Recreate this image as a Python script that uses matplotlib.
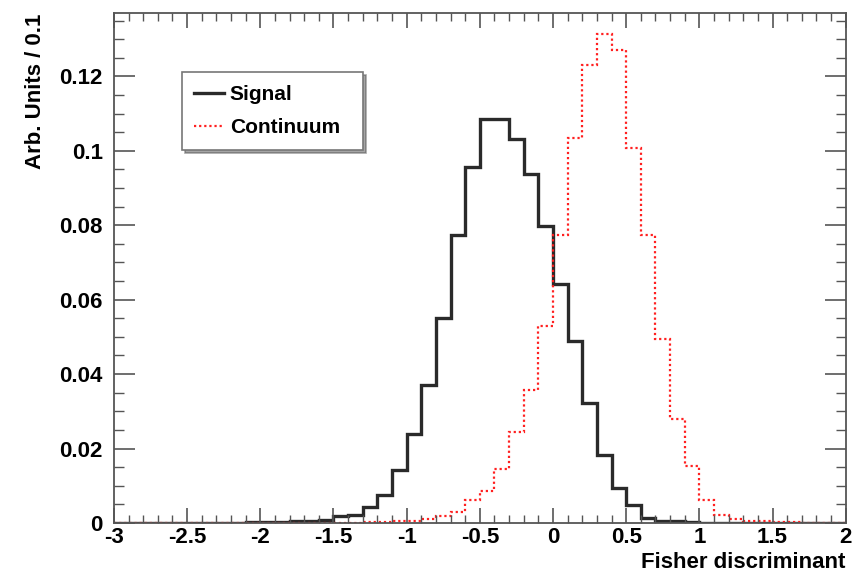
import numpy as np
import matplotlib
matplotlib.use("Agg")
import matplotlib.pyplot as plt
from matplotlib.ticker import MultipleLocator, FormatStrFormatter

plt.rcParams['font.family'] = ['Liberation Sans', 'DejaVu Sans']
plt.rcParams['font.weight'] = 'bold'
plt.rcParams['axes.unicode_minus'] = False

# histogram binning: 50 bins of 0.1 from -3 to 2
x_lo = -3.0
x_hi = 2.0

# bin contents (left edge -3.0 ... 1.9)
signal = [
    0, 0, 0, 0, 0, 0, 0,
    0.0001, 0.0001, 0.0002, 0.0003, 0.0003, 0.0004, 0.0005, 0.0008,
    0.0018, 0.0020, 0.0044, 0.0075, 0.0142, 0.0240, 0.0370, 0.0550,
    0.0773, 0.0957, 0.1086, 0.1086, 0.1033, 0.0938, 0.0797,
    0.0641, 0.0488, 0.0322, 0.0182, 0.0093, 0.0047, 0.0014, 0.0006,
    0.0005, 0.0003, 0.0001,
    0, 0, 0, 0, 0, 0, 0, 0, 0,
]
continuum = [
    0, 0, 0, 0, 0, 0, 0, 0, 0, 0, 0, 0, 0, 0, 0,
    0.0001, 0.0001, 0.0002, 0.0003, 0.0004, 0.0006, 0.0010, 0.0018,
    0.0030, 0.0062, 0.0087, 0.0146, 0.0244, 0.0356, 0.0529,
    0.0775, 0.1035, 0.1230, 0.1314, 0.1272, 0.1007, 0.0774, 0.0494,
    0.0280, 0.0154, 0.0061, 0.0020, 0.0010, 0.0006, 0.0004, 0.0003,
    0.0002, 0.0001, 0.0001, 0.0001,
]
labels = ["Signal", "Continuum"]

edges = np.linspace(x_lo, x_hi, len(signal) + 1)

fig = plt.figure(figsize=(8.63, 5.74), dpi=100)
ax = fig.add_axes([0.132, 0.089, 0.848, 0.888])

ax.stairs(signal, edges, color='#2a2a2a', linewidth=2.4, label=labels[0])
ax.stairs(continuum, edges, color='#ff2020', linewidth=1.6,
          linestyle=(0, (1, 1.3)), label=labels[1])

ax.set_xlim(x_lo, x_hi)
ax.set_ylim(0, 0.137)

ax.xaxis.set_major_locator(MultipleLocator(0.5))
ax.xaxis.set_minor_locator(MultipleLocator(0.1))
ax.yaxis.set_major_locator(MultipleLocator(0.02))
ax.yaxis.set_minor_locator(MultipleLocator(0.005))
ax.xaxis.set_major_formatter(FormatStrFormatter('%g'))
ax.yaxis.set_major_formatter(FormatStrFormatter('%g'))

ax.tick_params(which='both', direction='in', top=True, right=True,
               color='#555555', labelsize=16)
ax.tick_params(axis='x', which='major', length=11, width=1.2, pad=3)
ax.tick_params(axis='x', which='minor', length=5.5, width=1.0)
ax.tick_params(axis='y', which='major', length=15, width=1.2, pad=8)
ax.tick_params(axis='y', which='minor', length=7.5, width=1.0)
for sp in ax.spines.values():
    sp.set_color('#555555')
    sp.set_linewidth(1.3)

ax.set_xlabel("Fisher discriminant", fontsize=16, fontweight='bold', loc='right', labelpad=3)
ax.set_ylabel("Arb. Units / 0.1", fontsize=16, fontweight='bold', loc='top', labelpad=10)

leg = ax.legend(loc='upper left', bbox_to_anchor=(0.093, 0.884, 0.247, 0.0),
                mode='expand', fontsize=15,
                frameon=True, fancybox=False, shadow=True, edgecolor='#777777',
                handlelength=1.4, handletextpad=0.3, borderpad=0.6, labelspacing=0.7,
                borderaxespad=0)
leg.get_frame().set_linewidth(1.2)

fig.savefig("out.png", dpi=100)
